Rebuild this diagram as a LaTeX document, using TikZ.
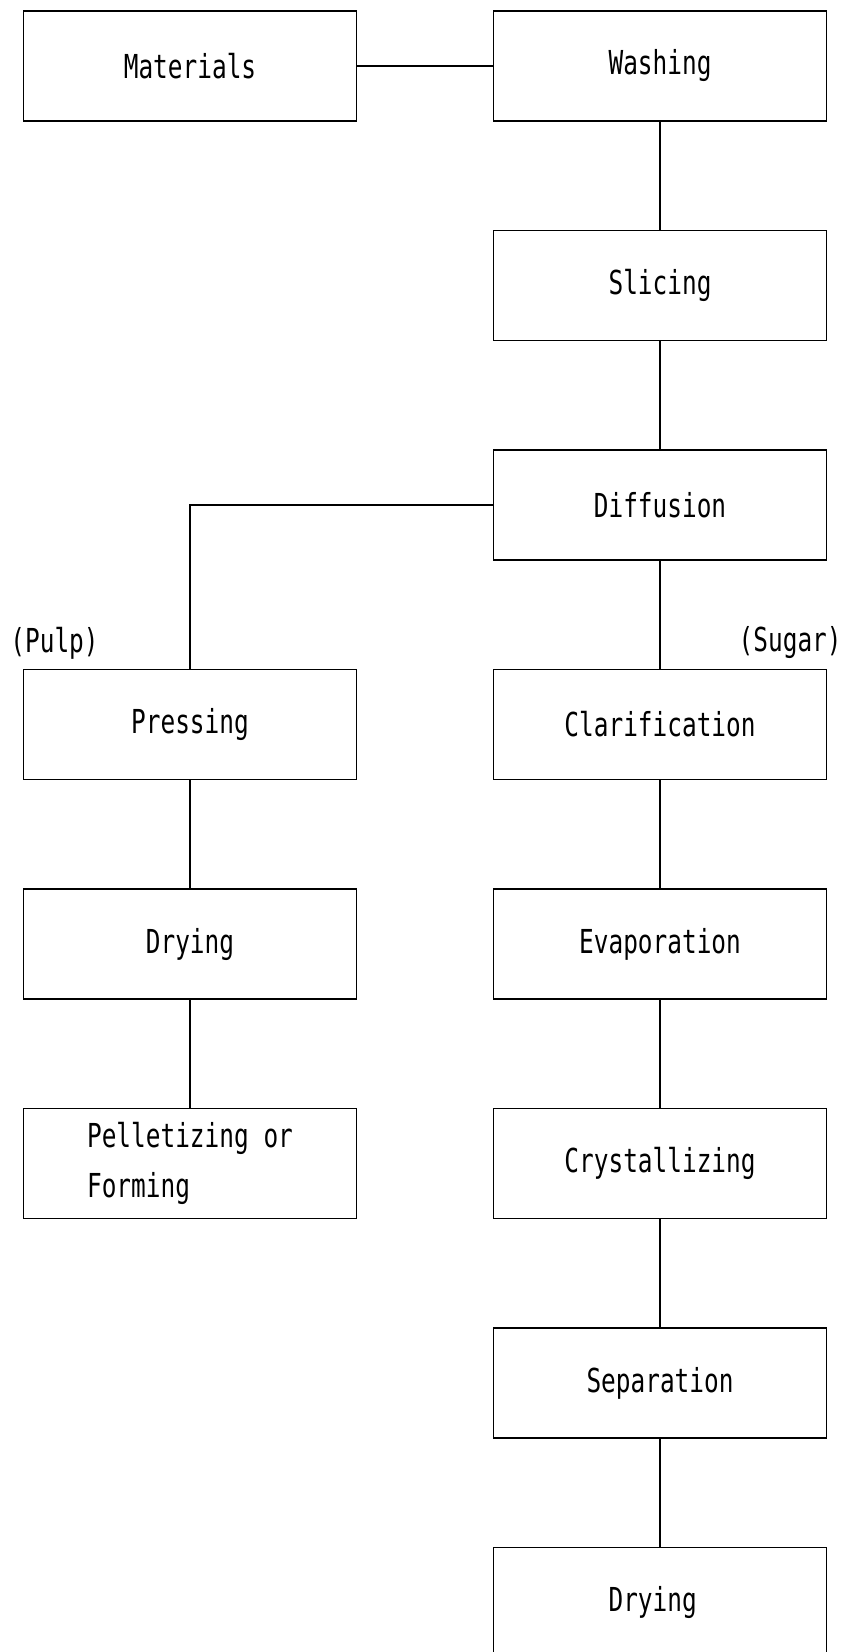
\documentclass[tikz,border=0pt]{standalone}
\usepackage{fontspec}
\newfontfamily\flowfont[FakeStretch=0.74]{DejaVu Sans Mono}
\usetikzlibrary{positioning}

\begin{document}
\begin{tikzpicture}[
  x=0.5pt, y=-0.5pt,
  stagebox/.style={draw, line width=0.7pt, minimum width=166.5pt, minimum height=55pt,
    inner sep=0pt, font=\flowfont\fontsize{16.5}{25}\selectfont, align=left},
  streamlabel/.style={font=\flowfont\fontsize{16.5}{25}\selectfont, inner sep=0pt},
  link/.style={line width=0.7pt}
]
  %% --- page: 843 x 1652 px, y grows downwards ---
  \useasboundingbox (0,0) rectangle (843,1652);
  \clip (0,0) rectangle (843,1652);
  \def\colL{190}             % centre of the pulp column
  \def\colR{660}             % centre of the sugar column
  \def\rowtop{66}            % centre of the first row
  \def\rowsep{219.5}         % vertical step between rows

  %% --- sugar line: one box per row ---
  \foreach \name/\lab [count=\i from 0] in {
    wash/Washing, slice/Slicing, diff/Diffusion, clar/Clarification,
    evap/Evaporation, cryst/Crystallizing, sep/Separation, drysug/Drying
  } {
    \node[stagebox] (\name) at (\colR,{\rowtop+\i*\rowsep}) {\lab};
  }

  %% --- raw material and pulp line ---
  \node[stagebox] (mat) at (\colL,\rowtop) {Materials};
  \node[stagebox] (press) at (\colL,{\rowtop+3*\rowsep}) {Pressing};
  \node[stagebox] (drypulp) at (\colL,{\rowtop+4*\rowsep}) {Drying};
  \node[stagebox] (pellet) at (\colL,{\rowtop+5*\rowsep}) {Pelletizing or\\Forming};

  \node[streamlabel, anchor=west] (pulp) at (10,643) {(Pulp)};
  \node[streamlabel, anchor=east] (sugar) at (842,643) {(Sugar)};

  %% --- connectors ---
  \draw[link] (mat) -- (wash);
  \foreach \a/\b in {wash/slice, slice/diff, diff/clar, clar/evap,
                     evap/cryst, cryst/sep, sep/drysug,
                     press/drypulp, drypulp/pellet} {
    \draw[link] (\a) -- (\b);
  }
  \draw[link] (diff.west) -| (press.north);
\end{tikzpicture}
\end{document}
